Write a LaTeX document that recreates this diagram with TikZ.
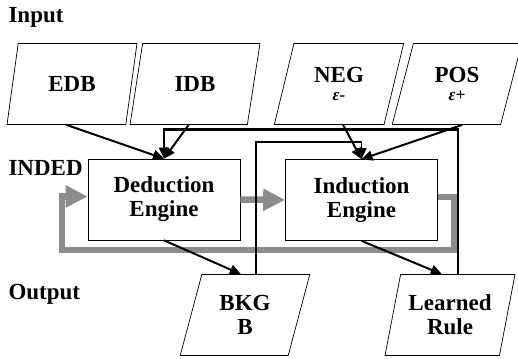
\documentclass[tikz,border=0pt]{standalone}
\usepackage{fontspec}
\setmainfont{Liberation Serif}
\usetikzlibrary{shapes.geometric, arrows.meta}

\begin{document}
\begin{tikzpicture}[x=1pt, y=-1pt,
	font=\fontsize{23}{24}\selectfont\bfseries,
	data/.style={draw, line width=0.7pt, shape=trapezium, trapezium left angle=72, trapezium right angle=108, trapezium stretches=true, minimum width=130pt, minimum height=81pt, inner sep=0pt, align=center},
	engine/.style={draw, line width=0.7pt, minimum width=152pt, minimum height=81pt, align=center},
	flow/.style={line width=2pt, -{Triangle[length=11pt, width=10pt]}},
	pass/.style={line width=6.5pt, gray!90, -{Triangle[length=22pt, width=21pt]}}]
	\useasboundingbox (0,0) rectangle (518,358);

	\node [anchor=west] (input) at (5,17) {Input};
	\node [anchor=west] (inded) at (5,168) {INDED};
	\node [anchor=west] (output) at (5,294) {Output};

	\node [data] (edb) at (72,84) {EDB};
	\node [data] (idb) at (195,84) {IDB};
	\node [data] (neg) at (339,84) {NEG\\[-6pt]{\fontsize{17}{18}\selectfont\itshape ε-}};
	\node [data] (pos) at (457,84) {POS\\[-6pt]{\fontsize{17}{18}\selectfont\itshape ε+}};

	\node [engine] (ded) at (164,199.5) {Deduction\\Engine};
	\node [engine] (ind) at (361.5,200) {Induction\\Engine};

	\node [data] (bkg) at (245,315) {BKG\\B};
	\node [data] (lrn) at (450,315) {Learned\\Rule};

	\coordinate (loopR) at (454,250);
	\coordinate (loopL) at (62,250);

	% deduced facts pass on, rules come round again
	\draw [pass] (ded.east) -- (ind.west);
	\draw [pass] ([yshift=3pt]ind.east) -| (loopR) -- (loopL) |- ([yshift=3pt]ded.west);

	\draw [flow] (edb.bottom side) -- (ded.north);
	\draw [flow] (idb.bottom side) -- (ded.north);
	\draw [flow] ([xshift=14pt]neg.bottom side) -- (ind.north);
	\draw [flow] ([xshift=16pt]pos.bottom side) -- (ind.north);
	\draw [flow] (ded.south) -- ([xshift=-15pt]bkg.top side);
	\draw [flow] (ind.south) -- ([xshift=-16pt]lrn.top side);
	\draw [flow, line width=1.6pt] (bkg.top side) |- ([yshift=17pt]ind.north) -- (ind.north);
	\draw [flow, line width=2.4pt] (lrn.top side) |- ([yshift=29pt]ded.north) -- (ded.north);
\end{tikzpicture}
\end{document}
